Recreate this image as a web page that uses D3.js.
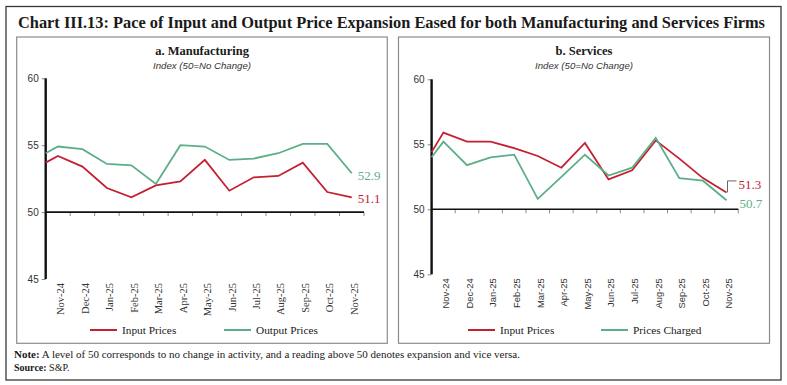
<!DOCTYPE html>
<html>
<head>
<meta charset="utf-8">
<script src="https://cdn.jsdelivr.net/npm/d3@7"></script>
<style>
  html, body { margin: 0; padding: 0; background: #fff; }
  svg { display: block; }
</style>
</head>
<body>
<svg id="chart" width="787" height="385"></svg>
<script>
// ---------------- DATA ----------------
const months = ["Nov-24","Dec-24","Jan-25","Feb-25","Mar-25","Apr-25","May-25","Jun-25","Jul-25","Aug-25","Sep-25","Oct-25","Nov-25"];
const yTicks = [45, 50, 55, 60];

// Leading value drawn at the start of the category axis (previous month, Oct-24)
const mfgInputLead = 53.7;
const mfgOutputLead = 54.4;
const srvInputLead = 54.4;
const srvChargedLead = 54.0;

// a. Manufacturing
const mfgInput  = [54.2, 53.4, 51.8, 51.1, 52.0, 52.3, 53.9, 51.6, 52.6, 52.7, 53.7, 51.5, 51.1];
const mfgOutput = [54.9, 54.7, 53.6, 53.5, 52.1, 55.0, 54.9, 53.9, 54.0, 54.4, 55.1, 55.1, 52.9];

// b. Services
const srvInput   = [55.9, 55.2, 55.2, 54.7, 54.1, 53.2, 55.1, 52.3, 53.0, 55.3, 53.9, 52.4, 51.3];
const srvCharged = [55.2, 53.4, 54.0, 54.2, 50.8, 52.5, 54.2, 52.6, 53.2, 55.5, 52.4, 52.2, 50.7];

const RED = "#c42031";
const GREEN = "#5dae88";

// ---------------- DRAW ----------------
const svg = d3.select("#chart");
const SERIF = "'Liberation Serif', 'DejaVu Serif', serif";
const SANS = "'Liberation Sans', 'DejaVu Sans', sans-serif";

// outer border
svg.append("rect").attr("x", 6).attr("y", 6.5).attr("width", 775).attr("height", 373.5)
  .attr("fill", "none").attr("stroke", "#3a3a3a").attr("stroke-width", 1.3);

// title
svg.append("text").attr("x", 18).attr("y", 28)
  .attr("font-family", SERIF).attr("font-weight", "bold").attr("font-size", 16.5)
  .attr("fill", "#1a1a1a")
  .attr("textLength", 747).attr("lengthAdjust", "spacingAndGlyphs")
  .text("Chart III.13: Pace of Input and Output Price Expansion Eased for both Manufacturing and Services Firms");

// notes
const note = svg.append("text").attr("x", 14).attr("y", 358)
  .attr("font-family", SERIF).attr("font-size", 10).attr("fill", "#1a1a1a")
  .attr("textLength", 506).attr("lengthAdjust", "spacingAndGlyphs");
note.append("tspan").attr("font-weight", "bold").text("Note:");
note.append("tspan").text(" A level of 50 corresponds to no change in activity, and a reading above 50 denotes expansion and vice versa.");
const src = svg.append("text").attr("x", 14).attr("y", 370.5)
  .attr("font-family", SERIF).attr("font-size", 10).attr("fill", "#1a1a1a");
src.append("tspan").attr("font-weight", "bold").text("Source:");
src.append("tspan").text(" S&P.");

function panel(cfg) {
  const g = svg.append("g");
  // panel border
  g.append("rect").attr("x", cfg.box[0]).attr("y", cfg.box[1])
    .attr("width", cfg.box[2] - cfg.box[0]).attr("height", cfg.box[3] - cfg.box[1])
    .attr("fill", "none").attr("stroke", "#8c8c8c").attr("stroke-width", 1.2);

  const cx = (cfg.box[0] + cfg.box[2]) / 2;
  g.append("text").attr("x", cx).attr("y", 55).attr("text-anchor", "middle")
    .attr("font-family", SERIF).attr("font-weight", "bold").attr("font-size", 12.5)
    .attr("fill", "#1a1a1a").text(cfg.title);
  g.append("text").attr("x", cx).attr("y", 69).attr("text-anchor", "middle")
    .attr("font-family", SANS).attr("font-style", "italic").attr("font-size", 9.6)
    .attr("fill", "#333").attr("textLength", 98).attr("lengthAdjust", "spacingAndGlyphs")
    .text("Index (50=No Change)");

  const x = d3.scaleLinear().domain([-0.5, months.length - 0.5]).range(cfg.xr);
  const y = d3.scaleLinear().domain([45, 60]).range(cfg.yr);

  // y axis ticks and labels
  const ya = g.append("g").attr("transform", `translate(${cfg.xr[0]},0)`)
    .call(d3.axisLeft(y).tickValues(yTicks).tickSize(4).tickPadding(3).tickFormat(d3.format("d")));
  ya.select(".domain").remove();
  ya.selectAll(".tick line").attr("stroke", "#8a8a8a").attr("stroke-width", 1);
  ya.selectAll(".tick text").attr("font-family", SANS).attr("font-size", 10).attr("fill", "#333");

  // x axis at 50
  const boundaries = d3.range(1, months.length + 1).map(k => k - 0.5);
  g.selectAll(".xt").data(boundaries).join("line")
    .attr("x1", d => x(d)).attr("x2", d => x(d))
    .attr("y1", y(50)).attr("y2", y(50) + 4)
    .attr("stroke", "#8a8a8a").attr("stroke-width", 1);
  g.append("line").attr("x1", x.range()[0]).attr("x2", x.range()[1])
    .attr("y1", y(50)).attr("y2", y(50)).attr("stroke", "#111").attr("stroke-width", 1.6);
  // y axis line
  g.append("line").attr("x1", cfg.xr[0]).attr("x2", cfg.xr[0])
    .attr("y1", y(45)).attr("y2", y(60)).attr("stroke", "#111").attr("stroke-width", 2.4);

  // x labels (rotated)
  g.selectAll(".xl").data(months).join("text")
    .attr("transform", (d, i) => `translate(${x(i) + 2.5},${y(45) + 4}) rotate(-90)`)
    .attr("text-anchor", "end").attr("dy", "0.35em")
    .attr("font-family", cfg.xFont).attr("font-size", cfg.xFontSize).attr("fill", "#333")
    .text(d => d);

  const line = d3.line().x(d => x(d.i)).y(d => y(d.v));
  cfg.series.forEach(s => {
    const data = [{ i: -0.5, v: s.lead }].concat(s.values.map((v, i) => ({ i, v })));
    g.append("path").datum(data).attr("d", line)
      .attr("fill", "none").attr("stroke", s.color).attr("stroke-width", 1.8)
      .attr("stroke-linejoin", "miter");
  });

  // end labels
  cfg.series.forEach(s => {
    const last = s.values[s.values.length - 1];
    const lx = x(months.length - 1);
    if (s.leader) {
      g.append("path")
        .attr("d", `M${lx + 1},${y(last)} V${y(last) - s.leader} H${lx + 10}`)
        .attr("fill", "none").attr("stroke", "#555").attr("stroke-width", 0.9);
    }
    g.append("text").attr("x", lx + s.dx).attr("y", y(last) + s.dy)
      .attr("font-family", SERIF).attr("font-size", 13).attr("fill", s.color)
      .text(d3.format(".1f")(last));
  });

  // legend
  cfg.legend.forEach(l => {
    g.append("line").attr("x1", l.x).attr("x2", l.x + 27).attr("y1", 330).attr("y2", 330)
      .attr("stroke", l.color).attr("stroke-width", 2);
    g.append("text").attr("x", l.x + 32).attr("y", 334)
      .attr("font-family", SERIF).attr("font-size", 11.3).attr("fill", "#1a1a1a").text(l.label);
  });
}

panel({
  box: [16.7, 37, 387.3, 343.3],
  title: "a. Manufacturing",
  xr: [45.7, 364],
  yr: [279, 78.3],
  xFont: SERIF, xFontSize: 10.5,
  series: [
    { lead: mfgInputLead, values: mfgInput, color: RED, dx: 6, dy: 6 },
    { lead: mfgOutputLead, values: mfgOutput, color: GREEN, dx: 6, dy: 7 }
  ],
  legend: [
    { x: 90, color: RED, label: "Input Prices" },
    { x: 224, color: GREEN, label: "Output Prices" }
  ]
});

panel({
  box: [398.5, 37, 769.5, 343.3],
  title: "b. Services",
  xr: [431.6, 738.3],
  yr: [274.3, 79.3],
  xFont: SANS, xFontSize: 9.4,
  series: [
    { lead: srvInputLead, values: srvInput, color: RED, dx: 12, dy: -3.5, leader: 11.5 },
    { lead: srvChargedLead, values: srvCharged, color: GREEN, dx: 13, dy: 8 }
  ],
  legend: [
    { x: 468, color: RED, label: "Input Prices" },
    { x: 601, color: GREEN, label: "Prices Charged" }
  ]
});
</script>
</body>
</html>
